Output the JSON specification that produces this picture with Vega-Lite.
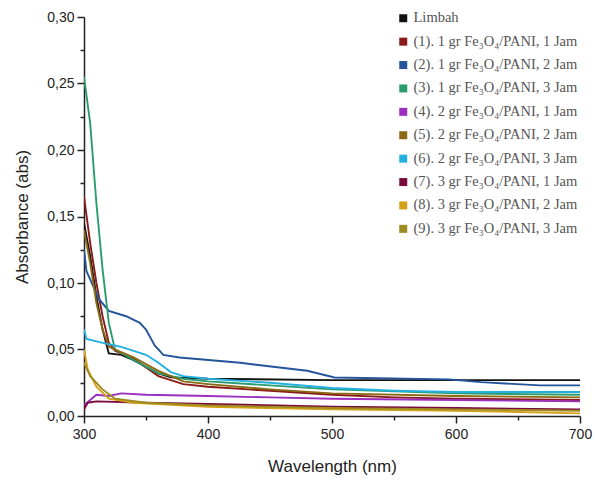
{
  "$schema": "https://vega.github.io/schema/vega-lite/v6.json",
  "autosize": "none",
  "width": 496,
  "height": 399,
  "padding": {"left": 84, "top": 17, "right": 15, "bottom": 67},
  "background": "white",
  "config": {
    "view": {"stroke": null},
    "axis": {"labelFont": "Liberation Sans", "titleFont": "Liberation Sans", "labelColor": "#222", "titleColor": "#222", "domainColor": "#222", "tickColor": "#222", "domainWidth": 1.5, "tickWidth": 1.5, "grid": false, "titleFontWeight": "normal", "labelFlush": false}
  },
  "datasets": {
    "spec": [
      {"s":"Limbah","w":300,"v":0.145},{"s":"Limbah","w":305,"v":0.12},{"s":"Limbah","w":310,"v":0.09},{"s":"Limbah","w":315,"v":0.065},{"s":"Limbah","w":320,"v":0.047},{"s":"Limbah","w":330,"v":0.046},{"s":"Limbah","w":340,"v":0.042},{"s":"Limbah","w":350,"v":0.037},{"s":"Limbah","w":360,"v":0.032},{"s":"Limbah","w":370,"v":0.029},{"s":"Limbah","w":400,"v":0.028},{"s":"Limbah","w":500,"v":0.027},{"s":"Limbah","w":600,"v":0.027},{"s":"Limbah","w":700,"v":0.027},
      {"s":"(1). 1 gr Fe₃O₄/PANI, 1 Jam","w":300,"v":0.165},{"s":"(1). 1 gr Fe₃O₄/PANI, 1 Jam","w":305,"v":0.13},{"s":"(1). 1 gr Fe₃O₄/PANI, 1 Jam","w":310,"v":0.1},{"s":"(1). 1 gr Fe₃O₄/PANI, 1 Jam","w":315,"v":0.075},{"s":"(1). 1 gr Fe₃O₄/PANI, 1 Jam","w":320,"v":0.055},{"s":"(1). 1 gr Fe₃O₄/PANI, 1 Jam","w":325,"v":0.049},{"s":"(1). 1 gr Fe₃O₄/PANI, 1 Jam","w":340,"v":0.043},{"s":"(1). 1 gr Fe₃O₄/PANI, 1 Jam","w":360,"v":0.03},{"s":"(1). 1 gr Fe₃O₄/PANI, 1 Jam","w":380,"v":0.024},{"s":"(1). 1 gr Fe₃O₄/PANI, 1 Jam","w":400,"v":0.022},{"s":"(1). 1 gr Fe₃O₄/PANI, 1 Jam","w":450,"v":0.019},{"s":"(1). 1 gr Fe₃O₄/PANI, 1 Jam","w":500,"v":0.016},{"s":"(1). 1 gr Fe₃O₄/PANI, 1 Jam","w":550,"v":0.014},{"s":"(1). 1 gr Fe₃O₄/PANI, 1 Jam","w":600,"v":0.013},{"s":"(1). 1 gr Fe₃O₄/PANI, 1 Jam","w":700,"v":0.012},
      {"s":"(2). 1 gr Fe₃O₄/PANI, 2 Jam","w":300,"v":0.125},{"s":"(2). 1 gr Fe₃O₄/PANI, 2 Jam","w":302,"v":0.109},{"s":"(2). 1 gr Fe₃O₄/PANI, 2 Jam","w":312,"v":0.088},{"s":"(2). 1 gr Fe₃O₄/PANI, 2 Jam","w":320,"v":0.079},{"s":"(2). 1 gr Fe₃O₄/PANI, 2 Jam","w":334,"v":0.075},{"s":"(2). 1 gr Fe₃O₄/PANI, 2 Jam","w":345,"v":0.07},{"s":"(2). 1 gr Fe₃O₄/PANI, 2 Jam","w":350,"v":0.065},{"s":"(2). 1 gr Fe₃O₄/PANI, 2 Jam","w":357,"v":0.053},{"s":"(2). 1 gr Fe₃O₄/PANI, 2 Jam","w":364,"v":0.046},{"s":"(2). 1 gr Fe₃O₄/PANI, 2 Jam","w":377,"v":0.044},{"s":"(2). 1 gr Fe₃O₄/PANI, 2 Jam","w":426,"v":0.04},{"s":"(2). 1 gr Fe₃O₄/PANI, 2 Jam","w":480,"v":0.034},{"s":"(2). 1 gr Fe₃O₄/PANI, 2 Jam","w":502,"v":0.029},{"s":"(2). 1 gr Fe₃O₄/PANI, 2 Jam","w":594,"v":0.0275},{"s":"(2). 1 gr Fe₃O₄/PANI, 2 Jam","w":620,"v":0.0255},{"s":"(2). 1 gr Fe₃O₄/PANI, 2 Jam","w":668,"v":0.023},{"s":"(2). 1 gr Fe₃O₄/PANI, 2 Jam","w":700,"v":0.023},
      {"s":"(3). 1 gr Fe₃O₄/PANI, 3 Jam","w":300,"v":0.255},{"s":"(3). 1 gr Fe₃O₄/PANI, 3 Jam","w":305,"v":0.22},{"s":"(3). 1 gr Fe₃O₄/PANI, 3 Jam","w":310,"v":0.16},{"s":"(3). 1 gr Fe₃O₄/PANI, 3 Jam","w":315,"v":0.11},{"s":"(3). 1 gr Fe₃O₄/PANI, 3 Jam","w":320,"v":0.07},{"s":"(3). 1 gr Fe₃O₄/PANI, 3 Jam","w":325,"v":0.05},{"s":"(3). 1 gr Fe₃O₄/PANI, 3 Jam","w":340,"v":0.042},{"s":"(3). 1 gr Fe₃O₄/PANI, 3 Jam","w":360,"v":0.032},{"s":"(3). 1 gr Fe₃O₄/PANI, 3 Jam","w":380,"v":0.028},{"s":"(3). 1 gr Fe₃O₄/PANI, 3 Jam","w":400,"v":0.026},{"s":"(3). 1 gr Fe₃O₄/PANI, 3 Jam","w":450,"v":0.023},{"s":"(3). 1 gr Fe₃O₄/PANI, 3 Jam","w":500,"v":0.02},{"s":"(3). 1 gr Fe₃O₄/PANI, 3 Jam","w":600,"v":0.017},{"s":"(3). 1 gr Fe₃O₄/PANI, 3 Jam","w":700,"v":0.016},
      {"s":"(4). 2 gr Fe₃O₄/PANI, 1 Jam","w":300,"v":0.008},{"s":"(4). 2 gr Fe₃O₄/PANI, 1 Jam","w":305,"v":0.012},{"s":"(4). 2 gr Fe₃O₄/PANI, 1 Jam","w":310,"v":0.016},{"s":"(4). 2 gr Fe₃O₄/PANI, 1 Jam","w":320,"v":0.015},{"s":"(4). 2 gr Fe₃O₄/PANI, 1 Jam","w":330,"v":0.017},{"s":"(4). 2 gr Fe₃O₄/PANI, 1 Jam","w":350,"v":0.016},{"s":"(4). 2 gr Fe₃O₄/PANI, 1 Jam","w":400,"v":0.015},{"s":"(4). 2 gr Fe₃O₄/PANI, 1 Jam","w":450,"v":0.014},{"s":"(4). 2 gr Fe₃O₄/PANI, 1 Jam","w":500,"v":0.013},{"s":"(4). 2 gr Fe₃O₄/PANI, 1 Jam","w":600,"v":0.012},{"s":"(4). 2 gr Fe₃O₄/PANI, 1 Jam","w":700,"v":0.011},
      {"s":"(5). 2 gr Fe₃O₄/PANI, 2 Jam","w":300,"v":0.14},{"s":"(5). 2 gr Fe₃O₄/PANI, 2 Jam","w":305,"v":0.115},{"s":"(5). 2 gr Fe₃O₄/PANI, 2 Jam","w":310,"v":0.085},{"s":"(5). 2 gr Fe₃O₄/PANI, 2 Jam","w":315,"v":0.065},{"s":"(5). 2 gr Fe₃O₄/PANI, 2 Jam","w":320,"v":0.052},{"s":"(5). 2 gr Fe₃O₄/PANI, 2 Jam","w":330,"v":0.048},{"s":"(5). 2 gr Fe₃O₄/PANI, 2 Jam","w":340,"v":0.044},{"s":"(5). 2 gr Fe₃O₄/PANI, 2 Jam","w":360,"v":0.034},{"s":"(5). 2 gr Fe₃O₄/PANI, 2 Jam","w":380,"v":0.026},{"s":"(5). 2 gr Fe₃O₄/PANI, 2 Jam","w":400,"v":0.024},{"s":"(5). 2 gr Fe₃O₄/PANI, 2 Jam","w":450,"v":0.02},{"s":"(5). 2 gr Fe₃O₄/PANI, 2 Jam","w":500,"v":0.017},{"s":"(5). 2 gr Fe₃O₄/PANI, 2 Jam","w":600,"v":0.015},{"s":"(5). 2 gr Fe₃O₄/PANI, 2 Jam","w":700,"v":0.014},
      {"s":"(6). 2 gr Fe₃O₄/PANI, 3 Jam","w":300,"v":0.065},{"s":"(6). 2 gr Fe₃O₄/PANI, 3 Jam","w":302,"v":0.058},{"s":"(6). 2 gr Fe₃O₄/PANI, 3 Jam","w":315,"v":0.055},{"s":"(6). 2 gr Fe₃O₄/PANI, 3 Jam","w":330,"v":0.052},{"s":"(6). 2 gr Fe₃O₄/PANI, 3 Jam","w":350,"v":0.046},{"s":"(6). 2 gr Fe₃O₄/PANI, 3 Jam","w":360,"v":0.04},{"s":"(6). 2 gr Fe₃O₄/PANI, 3 Jam","w":370,"v":0.033},{"s":"(6). 2 gr Fe₃O₄/PANI, 3 Jam","w":380,"v":0.03},{"s":"(6). 2 gr Fe₃O₄/PANI, 3 Jam","w":400,"v":0.028},{"s":"(6). 2 gr Fe₃O₄/PANI, 3 Jam","w":450,"v":0.025},{"s":"(6). 2 gr Fe₃O₄/PANI, 3 Jam","w":500,"v":0.021},{"s":"(6). 2 gr Fe₃O₄/PANI, 3 Jam","w":550,"v":0.019},{"s":"(6). 2 gr Fe₃O₄/PANI, 3 Jam","w":600,"v":0.018},{"s":"(6). 2 gr Fe₃O₄/PANI, 3 Jam","w":700,"v":0.018},
      {"s":"(7). 3 gr Fe₃O₄/PANI, 1 Jam","w":300,"v":0.005},{"s":"(7). 3 gr Fe₃O₄/PANI, 1 Jam","w":303,"v":0.01},{"s":"(7). 3 gr Fe₃O₄/PANI, 1 Jam","w":310,"v":0.011},{"s":"(7). 3 gr Fe₃O₄/PANI, 1 Jam","w":350,"v":0.01},{"s":"(7). 3 gr Fe₃O₄/PANI, 1 Jam","w":400,"v":0.009},{"s":"(7). 3 gr Fe₃O₄/PANI, 1 Jam","w":500,"v":0.007},{"s":"(7). 3 gr Fe₃O₄/PANI, 1 Jam","w":600,"v":0.006},{"s":"(7). 3 gr Fe₃O₄/PANI, 1 Jam","w":700,"v":0.005},
      {"s":"(8). 3 gr Fe₃O₄/PANI, 2 Jam","w":300,"v":0.05},{"s":"(8). 3 gr Fe₃O₄/PANI, 2 Jam","w":303,"v":0.035},{"s":"(8). 3 gr Fe₃O₄/PANI, 2 Jam","w":310,"v":0.022},{"s":"(8). 3 gr Fe₃O₄/PANI, 2 Jam","w":320,"v":0.013},{"s":"(8). 3 gr Fe₃O₄/PANI, 2 Jam","w":340,"v":0.01},{"s":"(8). 3 gr Fe₃O₄/PANI, 2 Jam","w":400,"v":0.007},{"s":"(8). 3 gr Fe₃O₄/PANI, 2 Jam","w":500,"v":0.005},{"s":"(8). 3 gr Fe₃O₄/PANI, 2 Jam","w":600,"v":0.004},{"s":"(8). 3 gr Fe₃O₄/PANI, 2 Jam","w":700,"v":0.002},
      {"s":"(9). 3 gr Fe₃O₄/PANI, 3 Jam","w":300,"v":0.04},{"s":"(9). 3 gr Fe₃O₄/PANI, 3 Jam","w":305,"v":0.03},{"s":"(9). 3 gr Fe₃O₄/PANI, 3 Jam","w":315,"v":0.02},{"s":"(9). 3 gr Fe₃O₄/PANI, 3 Jam","w":325,"v":0.013},{"s":"(9). 3 gr Fe₃O₄/PANI, 3 Jam","w":350,"v":0.01},{"s":"(9). 3 gr Fe₃O₄/PANI, 3 Jam","w":400,"v":0.008},{"s":"(9). 3 gr Fe₃O₄/PANI, 3 Jam","w":500,"v":0.006},{"s":"(9). 3 gr Fe₃O₄/PANI, 3 Jam","w":600,"v":0.005},{"s":"(9). 3 gr Fe₃O₄/PANI, 3 Jam","w":700,"v":0.004}
    ]
  },
  "data": {"name": "spec"},
  "mark": {"type": "line", "strokeWidth": 1.9, "clip": true},
  "encoding": {
    "x": {
      "field": "w", "type": "quantitative",
      "scale": {"domain": [300, 700], "nice": false, "zero": false},
      "axis": {
        "title": "Wavelength (nm)", "titleFontSize": 17, "titlePadding": 17,
        "values": [300, 350, 400, 450, 500, 550, 600, 650, 700],
        "labelFontSize": 14, "labelPadding": 4,
        "labelExpr": "datum.value % 100 == 0 ? datum.label : ''",
        "tickSize": {"condition": {"test": "datum.value % 100 == 0", "value": 7}, "value": 4}
      }
    },
    "y": {
      "field": "v", "type": "quantitative",
      "scale": {"domain": [0, 0.3], "nice": false},
      "axis": {
        "title": "Absorbance (abs)", "titleFontSize": 17, "titlePadding": 15,
        "values": [0, 0.025, 0.05, 0.075, 0.1, 0.125, 0.15, 0.175, 0.2, 0.225, 0.25, 0.275, 0.3],
        "labelFontSize": 14, "labelPadding": 3,
        "labelExpr": "round(datum.value*1000) % 50 == 0 ? replace(format(datum.value, '.2f'), '.', ',') : ''",
        "tickSize": {"condition": {"test": "round(datum.value*1000) % 50 == 0", "value": 7}, "value": 4}
      }
    },
    "color": {
      "field": "s", "type": "nominal",
      "sort": null,
      "scale": {
        "domain": ["Limbah", "(1). 1 gr Fe₃O₄/PANI, 1 Jam", "(2). 1 gr Fe₃O₄/PANI, 2 Jam", "(3). 1 gr Fe₃O₄/PANI, 3 Jam", "(4). 2 gr Fe₃O₄/PANI, 1 Jam", "(5). 2 gr Fe₃O₄/PANI, 2 Jam", "(6). 2 gr Fe₃O₄/PANI, 3 Jam", "(7). 3 gr Fe₃O₄/PANI, 1 Jam", "(8). 3 gr Fe₃O₄/PANI, 2 Jam", "(9). 3 gr Fe₃O₄/PANI, 3 Jam"],
        "range": ["#111111", "#8b1a1a", "#24549a", "#2a9d6e", "#9a2fc0", "#8b6914", "#22b0e0", "#7a0a3c", "#d4a017", "#9c8b1f"]
      },
      "legend": {
        "title": null, "orient": "none", "legendX": 312, "legendY": -6,
        "symbolType": "square", "symbolSize": 16, "symbolStrokeWidth": 4,
        "labelFont": "Liberation Serif", "labelFontSize": 14.5, "labelColor": "#555", "labelLimit": 400,
        "rowPadding": 2.4, "labelOffset": 3
      }
    }
  }
}
